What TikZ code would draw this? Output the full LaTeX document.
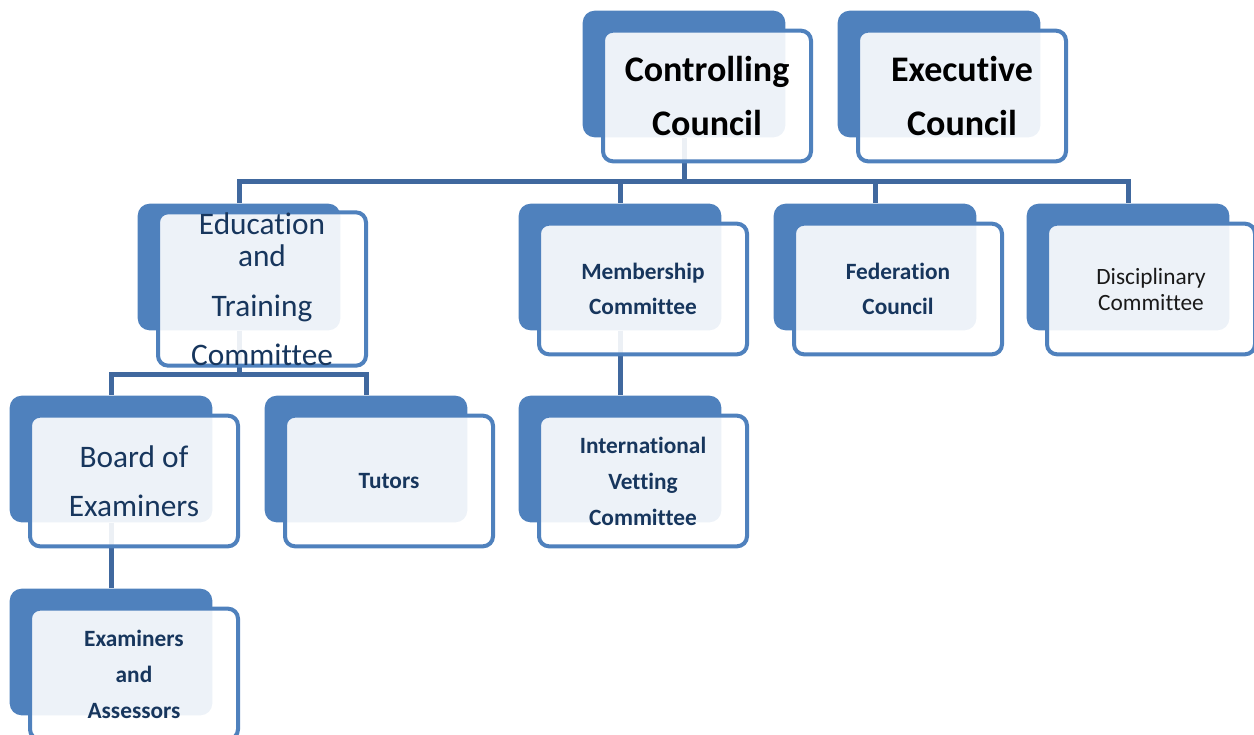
\documentclass[tikz,border=0pt]{standalone}
\usepackage{fontspec}
\setmainfont{Carlito}[RawFeature={-liga,-clig,-calt,-dlig}]
\usetikzlibrary{positioning,backgrounds}
\definecolor{boxblue}{RGB}{79,129,189}
\definecolor{linkblue}{RGB}{64,104,158}
\definecolor{navy}{RGB}{23,54,93}

\begin{document}
\begin{tikzpicture}[x=0.75pt, y=-0.75pt,
	back/.style={fill=boxblue, rounded corners=9pt, minimum width=152pt, minimum height=95pt, inner sep=0pt},
	front/.style={draw=boxblue, line width=3pt, fill=white, fill opacity=0.9, text opacity=1, rounded corners=7.5pt, minimum width=156pt, minimum height=98pt, inner sep=0pt, align=center, text=navy},
	big/.style={font=\fontsize{27}{41}\selectfont\bfseries, text=black},
	mid/.style={font=\fontsize{23.5}{37}\selectfont},
	small/.style={font=\fontsize{17.5}{27}\selectfont\bfseries},
	link/.style={draw=linkblue, line width=3.75pt}]
\useasboundingbox (0,0) rectangle (1254,735);
% draw councils
	\node[back] (ctrl) at (684,74) {};
	\node[front, big] (ctrl-f) at ([shift={(23,22)}]ctrl) {Controlling\\Council};
	\node[back] (exec) at (939,74) {};
	\node[front, big] (exec-f) at ([shift={(23,22)}]exec) {Executive\\Council};
% draw committees
	\node[back] (edu) at (239,267) {};
	\node[front, mid] (edu-f) at ([shift={(23,22)}]edu) {Education\\[-12.5pt]and\\Training\\Committee};
	\node[back] (memb) at (620,267) {};
	\node[front, small] (memb-f) at ([shift={(23,22)}]memb) {Membership\\[-1pt]Committee};
	\node[back] (fed) at (875,267) {};
	\node[front, small] (fed-f) at ([shift={(23,22)}]fed) {Federation\\[-1pt]Council};
	\node[back] (disc) at (1128,267) {};
	\node[front, font=\fontsize{17.5}{19.5}\selectfont, text=black!90] (disc-f) at ([shift={(23,22)}]disc) {Disciplinary\\Committee};
% draw sub committees
	\node[back] (board) at (111,459) {};
	\node[front, mid] (board-f) at ([shift={(23,22)}]board) {Board of\\Examiners};
	\node[back] (tutors) at (366,459) {};
	\node[front, small] (tutors-f) at ([shift={(23,22)}]tutors) {Tutors};
	\node[back] (intl) at (620,459) {};
	\node[front, small] (intl-f) at ([shift={(23,22)}]intl) {International\\Vetting\\Committee};
	\node[back] (exam) at (111,652) {};
	\node[front, small] (exam-f) at ([shift={(23,22)}]exam) {Examiners\\and\\Assessors};
% draw links
\begin{scope}[on background layer]
	\coordinate (bus1) at (684,181);
	\coordinate (bus2) at (239,374);
	\draw[link] (ctrl) -- (bus1);
	\draw[link] (bus1) -| (edu.north);
	\draw[link] (bus1) -| (memb.north);
	\draw[link] (bus1) -| (fed.north);
	\draw[link] (bus1) -| (disc.north);
	\draw[link] (edu) -- (bus2);
	\draw[link] (bus2) -| (board.north);
	\draw[link] (bus2) -| (tutors.north);
	\draw[link] (memb) -- (intl);
	\draw[link] (board) -- (exam);
\end{scope}
\end{tikzpicture}
\end{document}
